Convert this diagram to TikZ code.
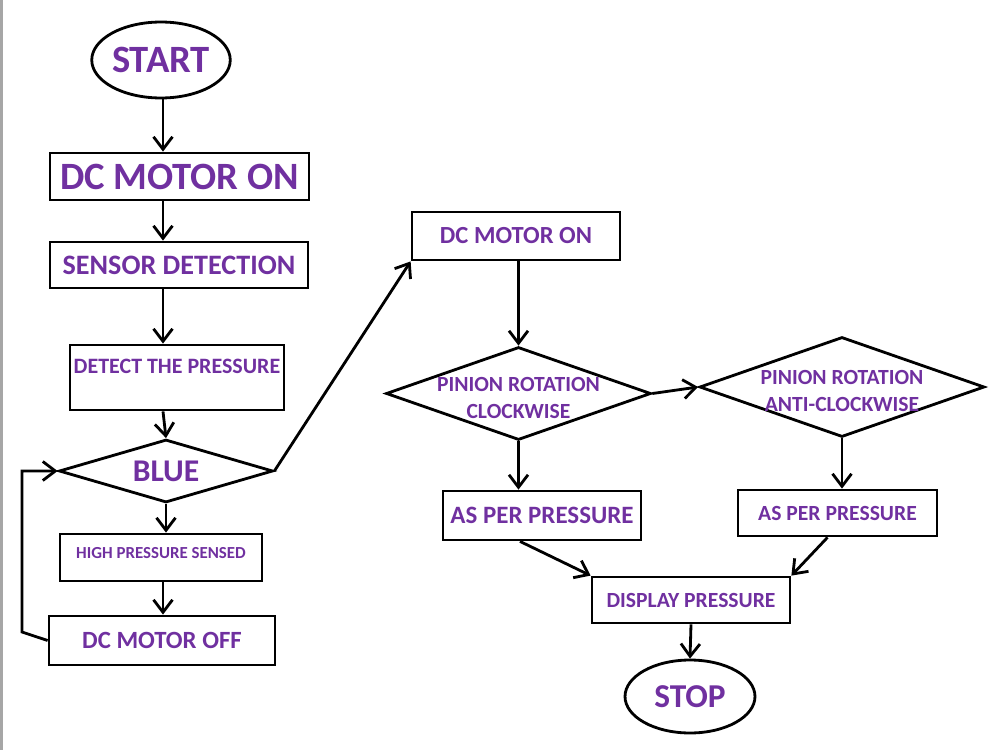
\documentclass[tikz,border=0pt]{standalone}
\usepackage{fontspec}
\setmainfont{Carlito}
\usetikzlibrary{arrows.meta,shapes.geometric}
\definecolor{txtpurple}{RGB}{112,48,160}
\def\fsz#1{\bfseries\fontsize{#1}{#1}\selectfont}
\def\twoline#1#2{\makebox[0pt]{\raisebox{-6.2pt}[0pt][0pt]{\renewcommand\arraystretch{1.25}\begin{tabular}{@{}c@{}}#1\\#2\end{tabular}}}}
\tikzset{
	box/.style={draw, line width=1.6pt, rectangle, inner sep=0pt, text=txtpurple, font=\fsz{#1}},
	term/.style={draw, line width=1.6pt, ellipse, inner sep=0pt, text=txtpurple, font=\fsz{#1}},
	decision/.style={draw, line width=1.6pt, diamond, aspect=3, inner sep=0pt, text=txtpurple, font=\fsz{#1}},
	arr/.style={line width=1.6pt, -{Straight Barb[length=2.5mm,width=3.8mm]}}
}

\begin{document}
\begin{tikzpicture}[x=0.02cm, y=-0.02cm]
				\useasboundingbox (0,0) rectangle (1000,750);
				\fill[black!35] (0,0) rectangle (3,750);
				
				% left column
				\node[term=22, minimum width=2.68cm, minimum height=1.52cm] (start) at (161,60) {START};
				\node[box=22, minimum width=5.18cm, minimum height=0.94cm] (dcon1) at (179.5,176.5) {DC MOTOR ON};
				\node[box=16, minimum width=5.16cm, minimum height=0.92cm] (sense) at (179,265) {SENSOR DETECTION};
				\node[box=12.5, minimum width=4.28cm, text height=0.56cm, text depth=0.74cm] (detect) at (177,377.5) {DETECT THE PRESSURE};
				\node[decision=18, minimum width=4.28cm, minimum height=1.26cm] (blue) at (166,471) {BLUE};
				\node[box=9.6, minimum width=4.04cm, text height=0.48cm, text depth=0.46cm] (high) at (161,557.5) {HIGH PRESSURE SENSED};
				\node[box=14.1, minimum width=4.52cm, minimum height=0.98cm] (dcoff) at (162,640.5) {DC MOTOR OFF};
				
				\coordinate (col) at (163,0);
				\coordinate (lpa) at (22,632);
				
				% right part
				\node[box=14, minimum width=4.16cm, minimum height=0.96cm] (dcon2) at (516,236) {DC MOTOR ON};
				\node[decision=12.3, minimum width=5.3cm, minimum height=1.86cm] (cw) at (518.5,393.5) {\twoline{PINION ROTATION}{CLOCKWISE}};
				\node[decision=12.3, minimum width=5.7cm, minimum height=2.0cm] (acw) at (842,387) {\twoline{PINION ROTATION}{ANTI-CLOCKWISE}};
				\node[box=14.2, minimum width=3.96cm, minimum height=0.98cm] (per1) at (542,515.5) {AS PER PRESSURE};
				\node[box=12.3, minimum width=3.98cm, minimum height=0.92cm] (per2) at (837.5,513) {AS PER PRESSURE};
				\node[box=12.3, minimum width=3.96cm, minimum height=0.92cm] (disp) at (691,600) {DISPLAY PRESSURE};
				\node[term=19, minimum width=2.6cm, minimum height=1.46cm] (stop) at (690,696.5) {STOP};
				
				\draw[arr] (col |- start.south) -- (col |- dcon1.north);
				\draw[arr] (col |- dcon1.south) -- (col |- sense.north);
				\draw[arr] (col |- sense.south) -- (col |- detect.north);
				\draw[arr] (col |- detect.south) -- (blue.north);
				\draw[arr] (blue.south) -- (blue.south |- high.north);
				\draw[arr] (col |- high.south) -- (col |- dcoff.north);
				\draw[arr] (dcoff.west) -- (lpa) -- (lpa |- blue.west) -- (blue.west);
				\draw[arr] (blue.east) -- (dcon2.south west);
				
				\draw[arr] (cw.north |- dcon2.south) -- (cw.north);
				\draw[arr] (cw.east) -- (acw.west);
				\draw[arr] (cw.south) -- (cw.south |- per1.north);
				\draw[arr] (acw.south) -- (acw.south |- per2.north);
				\draw[arr] ([xshift=-0.44cm]per1.south) -- (disp.north west);
				\draw[arr] ([xshift=-0.2cm]per2.south) -- (disp.north east);
				\draw[arr] (disp.south) -- (stop.north);
\end{tikzpicture}
\end{document}
